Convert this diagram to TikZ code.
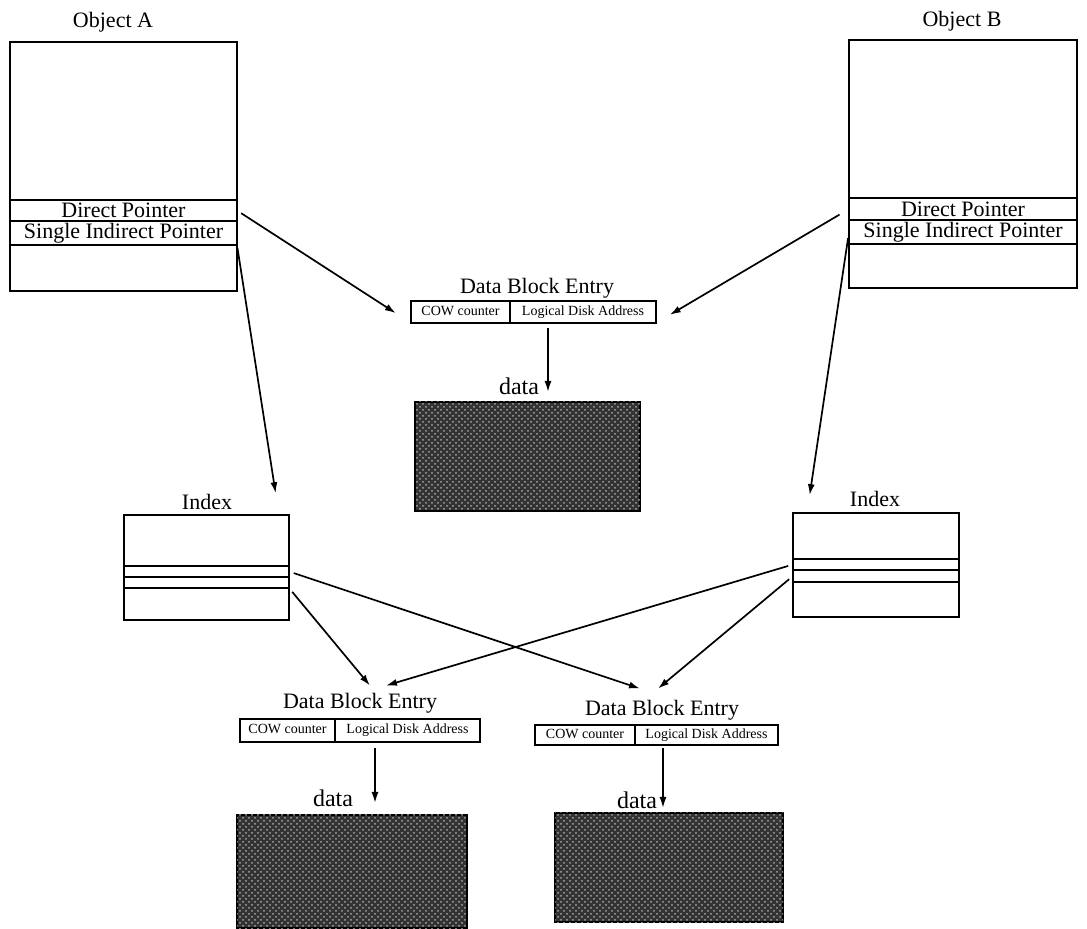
\documentclass[tikz,border=0pt]{standalone}
\usepackage{fontspec}
\setmainfont{Liberation Serif}
\usetikzlibrary{arrows.meta,positioning,calc,patterns}

\begin{document}
\begin{tikzpicture}[x=0.5pt, y=-0.5pt, font=\fontsize{11}{13}\selectfont, node distance=0pt,
    box/.style={draw, line width=0.7pt, inner sep=0pt, outer sep=0pt},
    cell/.style={box, font=\fontsize{7}{8}\selectfont, text height=5pt, text depth=1.5pt},
    blob/.style={draw, line width=0.7pt, fill=black!80, postaction={pattern=crosshatch dots, pattern color=black!35}, inner sep=0pt, outer sep=0pt, anchor=north},
    lbl/.style={inner sep=0pt},
    arr/.style={-{Latex[length=5.5pt,width=3.5pt]}, line width=0.85pt}]
        \useasboundingbox (0,0) rectangle (1087,929);

        \node[lbl] (lblObjA) at (113,22) {Object A};
        \node[box,minimum width=113.5pt,minimum height=79pt,anchor=north] (objA) at (123.5,42) {};
        \node[box,minimum width=113.5pt,minimum height=10.5pt,below=of objA] (dirA) {Direct Pointer};
        \node[box,minimum width=113.5pt,minimum height=12pt,below=of dirA] (sinA) {Single Indirect Pointer};
        \node[box,minimum width=113.5pt,minimum height=23pt,below=of sinA] (botA) {};

        \node[lbl] (lblObjB) at (962,21) {Object B};
        \node[box,minimum width=114pt,minimum height=79pt,anchor=north] (objB) at (963,40) {};
        \node[box,minimum width=114pt,minimum height=11pt,below=of objB] (dirB) {Direct Pointer};
        \node[box,minimum width=114pt,minimum height=12pt,below=of dirB] (sinB) {Single Indirect Pointer};
        \node[box,minimum width=114pt,minimum height=22pt,below=of sinB] (botB) {};

        \node[lbl] (lblT) at (537,288) {Data Block Entry};
        \node[cell,minimum width=49.5pt,minimum height=11pt,anchor=north west] (cowT) at (411,301) {COW counter};
        \node[cell,minimum width=73pt,minimum height=11pt,right=of cowT] (ladT) {Logical Disk Address};
        \node[lbl,font=\fontsize{12}{14}\selectfont] (dlT) at (519,386) {data};
        \node[blob,minimum width=112.5pt,minimum height=54.5pt] (dataT) at (527.5,402) {};

        \node[lbl] (lblIdxA) at (207,502) {Index};
        \node[box,minimum width=82.5pt,minimum height=25.5pt,anchor=north] (idxA) at (206.5,515) {};
        \node[box,minimum width=82.5pt,minimum height=5.5pt,below=of idxA] (idxA1) {};
        \node[box,minimum width=82.5pt,minimum height=5.5pt,below=of idxA1] (idxA2) {};
        \node[box,minimum width=82.5pt,minimum height=16pt,below=of idxA2] (idxA3) {};

        \node[lbl] (lblIdxB) at (875,499) {Index};
        \node[box,minimum width=83pt,minimum height=23pt,anchor=north] (idxB) at (876,513) {};
        \node[box,minimum width=83pt,minimum height=5.5pt,below=of idxB] (idxB1) {};
        \node[box,minimum width=83pt,minimum height=6pt,below=of idxB1] (idxB2) {};
        \node[box,minimum width=83pt,minimum height=17.5pt,below=of idxB2] (idxB3) {};

        \node[lbl] (lblL) at (360,703) {Data Block Entry};
        \node[cell,minimum width=47.5pt,minimum height=11.5pt,anchor=north west] (cowL) at (240,719) {COW counter};
        \node[cell,minimum width=72.5pt,minimum height=11.5pt,right=of cowL] (ladL) {Logical Disk Address};
        \node[lbl,font=\fontsize{12}{14}\selectfont] (dlL) at (333,798) {data};
        \node[blob,minimum width=115pt,minimum height=56.5pt] (dataL) at (352,815) {};

        \node[lbl] (lblR) at (662,710) {Data Block Entry};
        \node[cell,minimum width=50pt,minimum height=10pt,anchor=north west] (cowR) at (535,725) {COW counter};
        \node[cell,minimum width=71.5pt,minimum height=10pt,right=of cowR] (ladR) {Logical Disk Address};
        \node[lbl,font=\fontsize{12}{14}\selectfont] (dlR) at (637,800) {data};
        \node[blob,minimum width=114pt,minimum height=54.5pt] (dataR) at (669,813) {};

        \draw[arr,shorten <=2.5pt,shorten >=9pt] (dirA.east) -- (cowT.south west);
        \draw[arr,shorten <=5.5pt,shorten >=8pt] (dirB.west) -- (ladT.south east);
        \draw[arr,shorten <=1.5pt,shorten >=11pt] (sinA.south east) -- ($(idxA.north east)+(-10,0)$);
        \draw[arr,shorten <=3pt,shorten >=9pt] (sinB.west) -- ($(idxB.north west)+(14,0)$);

        \draw[arr,shorten <=2.5pt,shorten >=5pt] ([xshift=19pt]ladT.south west) -- ([xshift=19pt]ladT.south west |- dataT.north);
        \draw[arr,shorten <=3pt,shorten >=6pt] ([xshift=20pt]ladL.south west) -- ([xshift=20pt]ladL.south west |- dataL.north);
        \draw[arr,shorten <=1.5pt,shorten >=2.5pt] ([xshift=14pt]ladR.south west) -- ([xshift=14pt]ladR.south west |- dataR.north);

        \draw[arr,shorten <=2.5pt] (idxA1.east) -- ($(lblR.north)+(-22,-11)$);
        \draw[arr,shorten <=2.5pt] (idxA3.north east) -- ($(lblL.north)+(10,-7)$);
        \draw[arr,shorten <=2.5pt] (idxB1.west) -- ($(lblL.north)+(26,-7)$);
        \draw[arr,shorten <=2.5pt] (idxB2.west) -- ($(lblR.north)+(-4,-11)$);
\end{tikzpicture}
\end{document}
